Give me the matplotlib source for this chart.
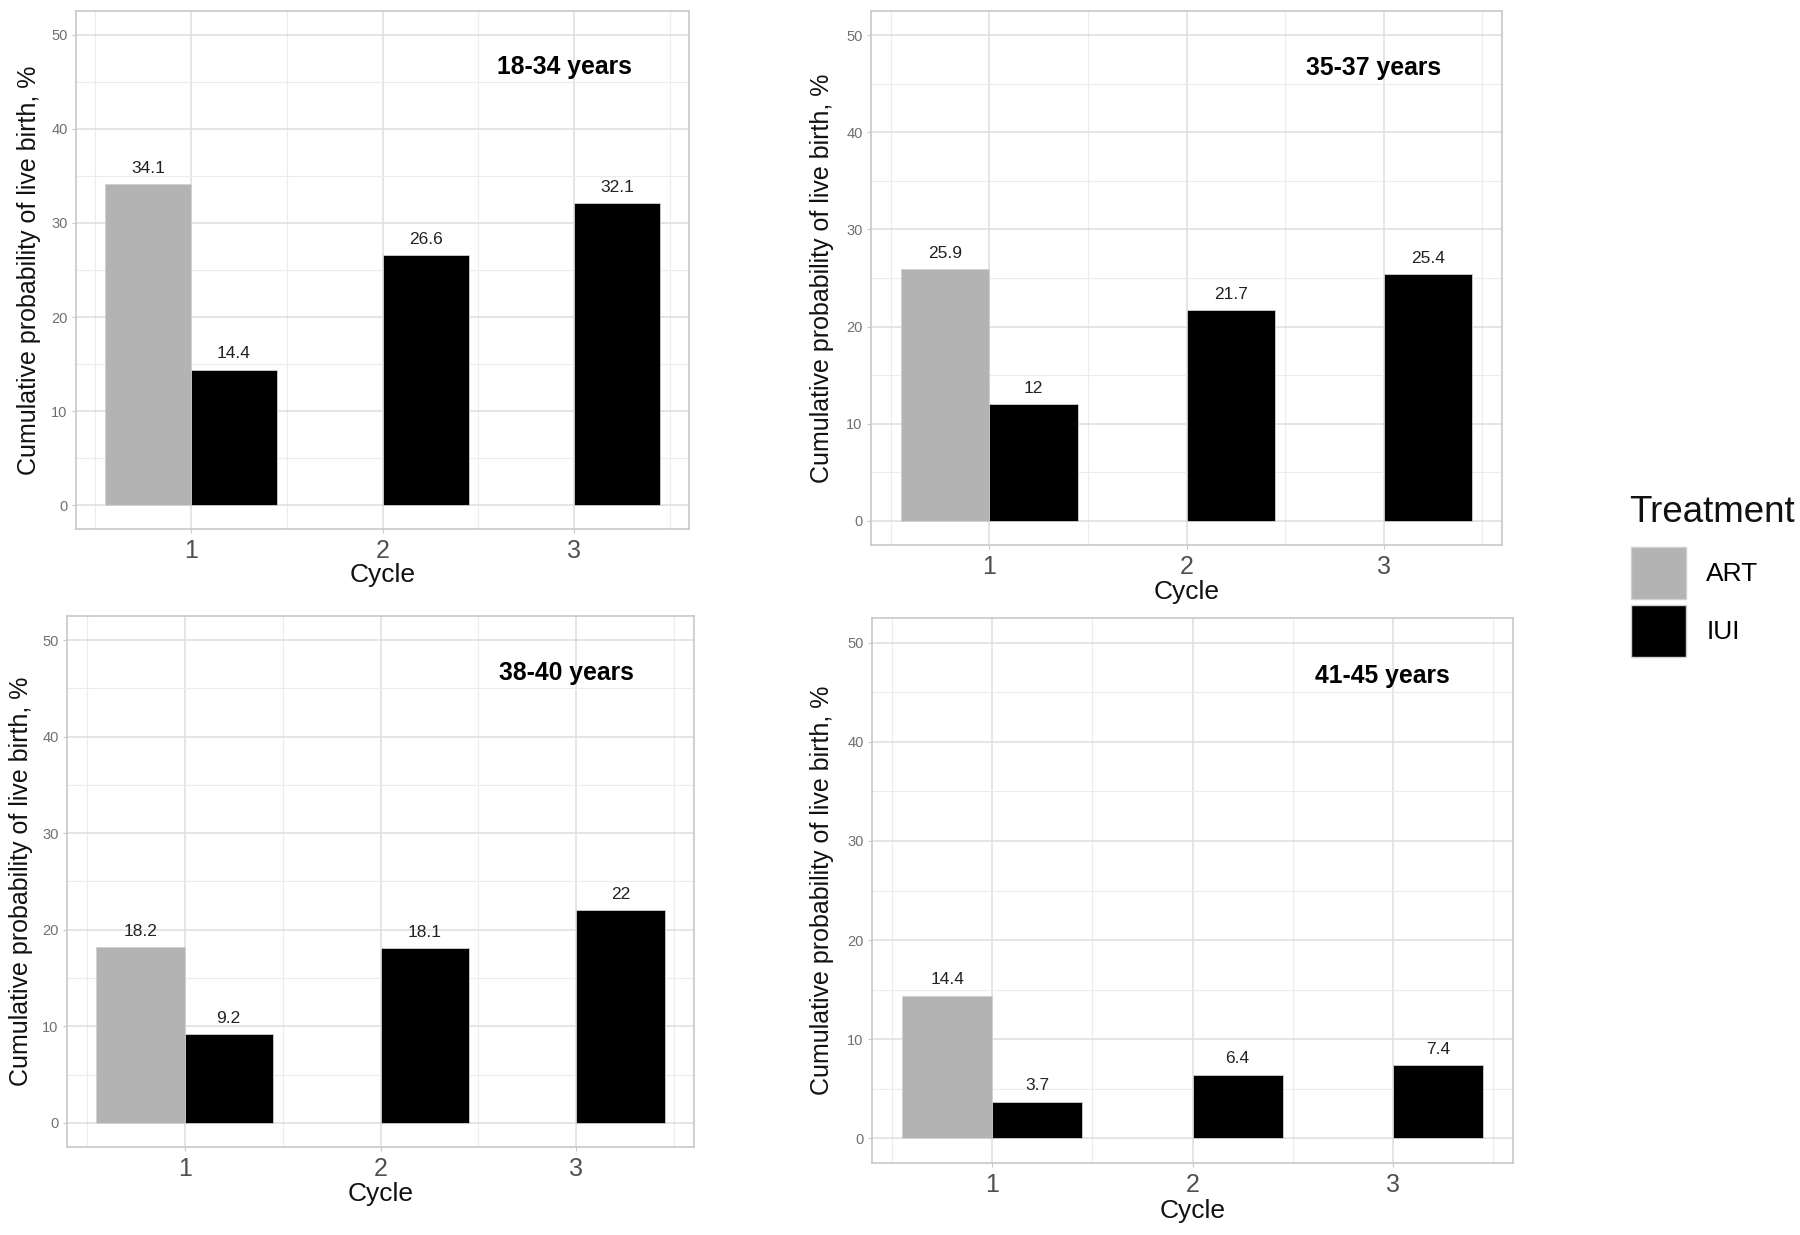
import matplotlib
matplotlib.use("Agg")
import matplotlib.pyplot as plt
from matplotlib.patches import Patch
import numpy as np

plt.rcParams['font.family'] = ['Liberation Sans', 'DejaVu Sans']

cycles = [1, 2, 3]
age_groups = ["18-34 years", "35-37 years", "38-40 years", "41-45 years"]
art_values = [34.1, 25.9, 18.2, 14.4]          # ART only in cycle 1
iui_18_34 = [14.4, 26.6, 32.1]
iui_35_37 = [12, 21.7, 25.4]
iui_38_40 = [9.2, 18.1, 22]
iui_41_45 = [3.7, 6.4, 7.4]
iui_values = [iui_18_34, iui_35_37, iui_38_40, iui_41_45]
treatments = ["ART", "IUI"]
colors = {"ART": "#b3b3b3", "IUI": "#000000"}

W, H = 1800, 1235
fig = plt.figure(figsize=(W / 100, H / 100), dpi=100)

# panel rectangles in pixels: left, right, top, bottom
rects = [(76, 689, 11, 529), (871, 1502, 11, 545),
         (67, 694, 616, 1147), (872, 1513, 618, 1163)]

bw = 0.45
for i, (l, r, t, b) in enumerate(rects):
    ax = fig.add_axes([l / W, 1 - b / H, (r - l) / W, (b - t) / H])
    ax.set_xlim(0.4, 3.6)
    ax.set_ylim(-2.5, 52.5)
    ax.set_xticks(cycles)
    ax.set_xticks([0.5, 1.5, 2.5, 3.5], minor=True)
    ax.set_yticks(np.arange(0, 51, 10))
    ax.set_yticks(np.arange(5, 50, 10), minor=True)
    ax.grid(which='major', color='#dedede', linewidth=1.1)
    ax.grid(which='minor', color='#ececec', linewidth=0.8)
    ax.set_axisbelow(True)
    for s in ax.spines.values():
        s.set_color('#c8c8c8')
        s.set_linewidth(1.2)
    ax.tick_params(axis='y', which='major', labelsize=10.5, labelcolor='#707070',
                   color='#c8c8c8', length=3, pad=3)
    ax.tick_params(axis='x', which='major', labelsize=18, labelcolor='#505050',
                   color='#c8c8c8', length=3, pad=4)
    ax.tick_params(which='minor', length=0)

    # ART bar (cycle 1 only), IUI bars dodged to the right
    a = art_values[i]
    ax.bar(cycles[0] - bw / 2, a, width=bw, color=colors["ART"],
           edgecolor='#d0d0d0', linewidth=0.6)
    ax.annotate(f"{a:g}", (cycles[0] - bw / 2, a), xytext=(0, 6),
                textcoords='offset points', ha='center', va='bottom',
                fontsize=12.5, color='#222222')
    xs = [c + bw / 2 for c in cycles]
    ax.bar(xs, iui_values[i], width=bw, color=colors["IUI"],
           edgecolor='#d0d0d0', linewidth=0.6)
    for x, v in zip(xs, iui_values[i]):
        ax.annotate(f"{v:g}", (x, v), xytext=(0, 6),
                    textcoords='offset points', ha='center', va='bottom',
                    fontsize=12.5, color='#222222')

    ax.text(2.95, 46.6, age_groups[i], ha='center', va='center',
            fontsize=17.8, fontweight='bold', color='black')

    ax.set_ylabel("Cumulative probability of live birth, %", fontsize=18,
                  color='#111111')
    ax.set_xlabel("Cycle", fontsize=19, color='#111111')
    ax.yaxis.label.set_va('center')
    ax.xaxis.label.set_va('center')
    ylx = [-0.077, -0.078, -0.073, -0.078][i]
    ax.yaxis.set_label_coords(ylx, 0.5)
    ax.xaxis.set_label_coords(0.5, -0.088)

# legend title and keys
fig.text(1629 / W, 1 - 512 / H, "Treatment", ha='left', va='center',
         fontsize=26.5, color='#111111')
handles = [Patch(facecolor=colors[t], edgecolor='#d0d0d0', label=t) for t in treatments]
leg = fig.legend(handles=handles, loc='upper left',
                 bbox_to_anchor=(1612.5 / W, 1 - 529 / H), frameon=False,
                 fontsize=19, handlelength=2.1,
                 handleheight=2.65, labelspacing=0.2, handletextpad=0.75,
                 borderpad=0.2)

fig.savefig("out.png", dpi=100)
